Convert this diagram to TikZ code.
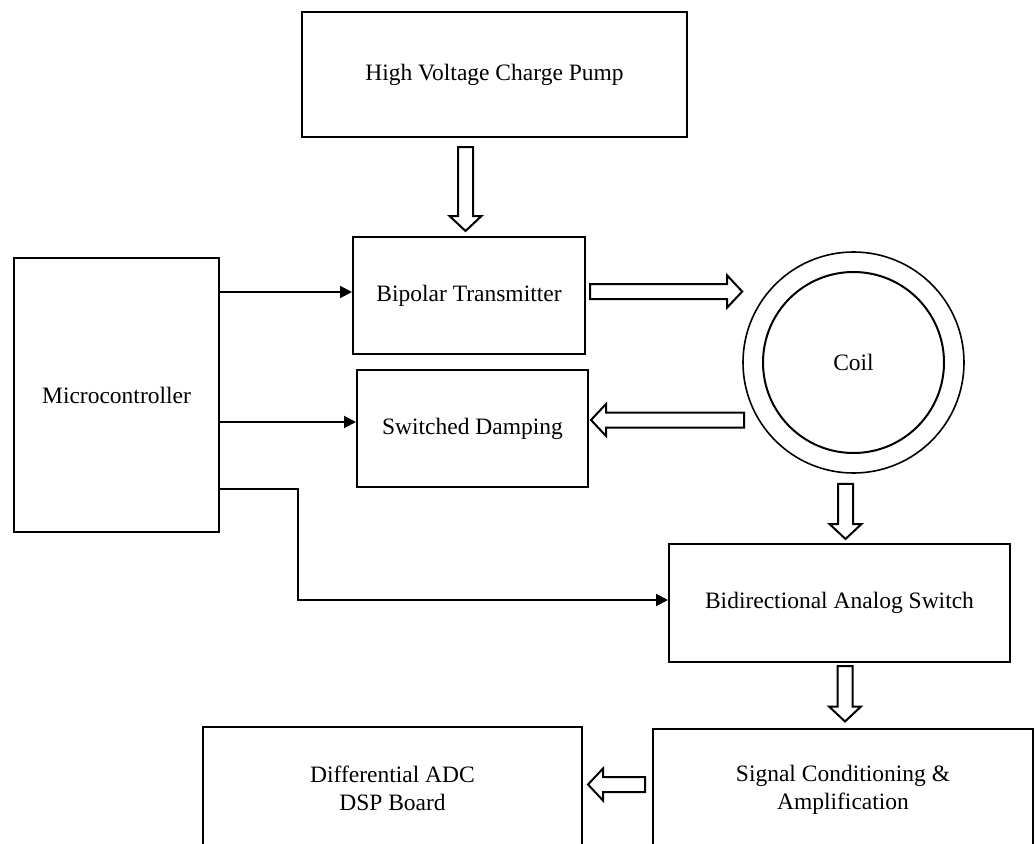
\documentclass[tikz,border=0pt]{standalone}
\usepackage{fontspec}
\setmainfont{Liberation Serif}
\usetikzlibrary{arrows.meta,calc,positioning}
\tikzset{
  bloque/.style={draw,line width=2pt,inner sep=0pt,align=center,
    font=\fontsize{23.5}{27.5}\selectfont},
  senal/.style={-{Triangle[length=12pt,width=12pt]},line width=2pt},
  gruesa/.style={draw,fill=white,line width=2pt,line join=miter,to path={
    ($(\tikztostart)!7.5pt!90:(\tikztotarget)$)
    -- ($(\tikztotarget)!15pt!(\tikztostart)!7.5pt!-90:(\tikztostart)$)
    -- ($(\tikztotarget)!15pt!(\tikztostart)!16pt!-90:(\tikztostart)$)
    -- (\tikztotarget)
    -- ($(\tikztotarget)!15pt!(\tikztostart)!16pt!90:(\tikztostart)$)
    -- ($(\tikztotarget)!15pt!(\tikztostart)!7.5pt!90:(\tikztostart)$)
    -- ($(\tikztostart)!7.5pt!-90:(\tikztotarget)$) -- cycle}}
}
\begin{document}
\begin{tikzpicture}[x=1pt,y=-1pt]
\useasboundingbox (0,0) rectangle (1035,843);
\clip (0,0) rectangle (1035,843);
% bloques
\node[bloque,minimum width=385,minimum height=125] (hv) at (494.5,74.5) {High Voltage Charge Pump};
\node[bloque,minimum width=232,minimum height=117] (bt) at (469,295.5) {Bipolar Transmitter};
\node[bloque,minimum width=231,minimum height=117] (sd) at (472.5,428.5) {Switched Damping};
\node[bloque,minimum width=205,minimum height=274] (mc) at (116.5,395) {Microcontroller};
\node[bloque,minimum width=341,minimum height=118] (bas) at (839.5,603) {Bidirectional Analog Switch};
\node[bloque,minimum width=379,minimum height=123] (adc) at (392.5,788.5) {Differential ADC\\DSP Board};
\node[bloque,minimum width=380,minimum height=123] (sig) at (843,790) {Signal Conditioning \&\\Amplification};
% bobina
\node[draw,circle,line width=1.6pt,minimum size=221] (coil) at (853.5,362.5) {};
\node[draw,circle,line width=1.6pt,minimum size=181,bloque] (coilin) at (coil.center) {Coil};
% senales del microcontrolador
\coordinate (m1) at (mc.east |- 0,292);
\coordinate (m2) at (mc.east |- 0,422);
\coordinate (m3) at (mc.east |- 0,489);
\draw[senal] (m1) -- (m1 -| bt.west);
\draw[senal] (m2) -- (m2 -| sd.west);
\draw[senal] (m3) -- ++(78,0) |- ([yshift=3pt]bas.west);
% flechas gruesas
\coordinate (g1) at (465.5,147);
\coordinate (g2) at (590,291.5);
\coordinate (g3) at (744,420);
\coordinate (g6) at (645,784.5);
\draw[gruesa] (g1) to ([yshift=5pt]g1 |- bt.north);
\draw[gruesa] (g2) to (g2 -| coil.west);
\draw[gruesa] (g3) to ([xshift=2pt]g3 -| sd.east);
\draw[gruesa] ([yshift=-10pt]coil.south -| 845.5,0) to ([yshift=4pt]bas.north -| 845.5,0);
\draw[gruesa] ([yshift=-3pt]bas.south -| 845,0) to ([yshift=6pt]sig.north -| 845,0);
\draw[gruesa] (g6) to ([xshift=5pt]g6 -| adc.east);
\end{tikzpicture}
\end{document}
